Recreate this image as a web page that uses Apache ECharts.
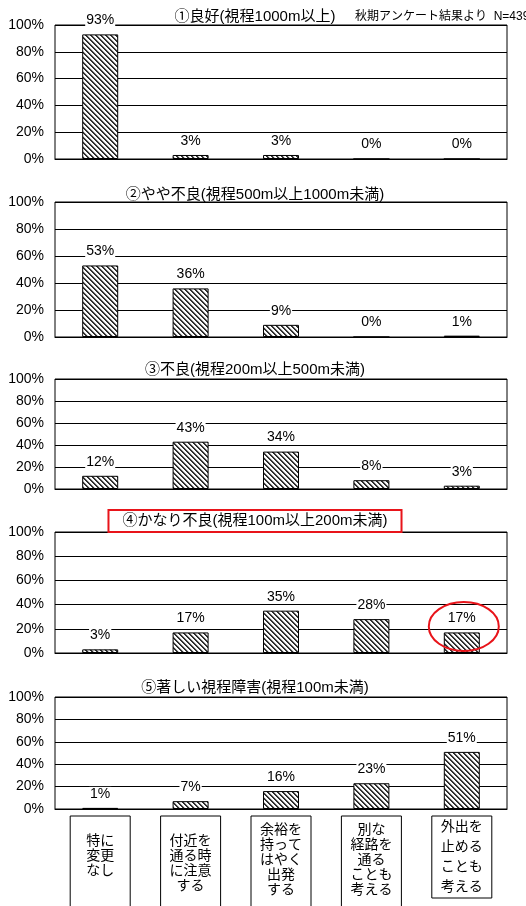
<!DOCTYPE html>
<html><head><meta charset="utf-8">
<script src="https://cdn.jsdelivr.net/npm/echarts@6/dist/echarts.min.js"></script>
<style>html,body{margin:0;padding:0;background:#fff}#c{width:526px;height:906px}</style>
</head><body><div id="c"></div>
<script>
// ---- data ----
const categories = ['特に\n変更\nなし', '付近を\n通る時\nに注意\nする', '余裕を\n持って\nはやく\n出発\nする', '別な\n経路を\n通る\nことも\n考える', '外出を\n止める\nことも\n考える'];
const panelTitles = ['①良好(視程1000m以上)', '②やや不良(視程500m以上1000m未満)', '③不良(視程200m以上500m未満)', '④かなり不良(視程100m以上200m未満)', '⑤著しい視程障害(視程100m未満)'];
const note = '秋期アンケート結果より  N=439';
const good = [93, 3, 3, 0, 0];
const slightlyPoor = [53, 36, 9, 0, 1];
const poor = [12, 43, 34, 8, 3];
const veryPoor = [3, 17, 35, 28, 17];
const severe = [1, 7, 16, 23, 51];
const panels = [good, slightlyPoor, poor, veryPoor, severe];

// ---- layout / style ----
const FONT = '"Liberation Sans", "Noto Sans CJK JP", sans-serif';
const gridTops = [25, 202, 379, 532, 697];
const gridHeights = [134, 135, 110, 121, 112];
const titleY = [17, 195, 370, 521, 688];
const labelBoxStyles = [
  {padding: [18, 0, 0, 0], height: 82, lineHeight: 15},
  {padding: [18, 0, 0, 0], height: 82, lineHeight: 15},
  {padding: [7, 0, 0, 0], height: 93, lineHeight: 15},
  {padding: [7, 0, 0, 0], height: 93, lineHeight: 15},
  {padding: [1, 0, 1, 0], height: 80, lineHeight: 20}
];

// hatch pattern
const pc = document.createElement('canvas');
pc.width = 5; pc.height = 5;
const pctx = pc.getContext('2d');
pctx.fillStyle = '#fff'; pctx.fillRect(0, 0, 5, 5);
for (let y = 0; y < 5; y++) for (let x = 0; x < 5; x++) {
  const k = ((x - y) % 5 + 5) % 5;
  if (k < 2) { pctx.fillStyle = '#333'; pctx.fillRect(x, y, 1, 1); }
  else if (k === 2) { pctx.fillStyle = '#ccc'; pctx.fillRect(x, y, 1, 1); }
}

const chart = echarts.init(document.getElementById('c'), null, {renderer: 'canvas'});
const grids = [], xAxes = [], yAxes = [], series = [];
panels.forEach((vals, i) => {
  grids.push({left: 55, right: 19, top: gridTops[i], height: gridHeights[i], show: true, borderColor: '#000', borderWidth: 1,
    backgroundColor: 'transparent', containLabel: false, outerBoundsMode: 'none'});
  const last = i === panels.length - 1;
  xAxes.push({
    type: 'category', gridIndex: i,
    data: categories.map((c, j) => last ? {value: c, textStyle: labelBoxStyles[j]} : c),
    axisLine: {show: true, lineStyle: {color: '#000', width: 1}},
    axisTick: {show: false},
    axisLabel: last ? {
      show: true, interval: 0, margin: 7, color: '#000', fontSize: 14, fontFamily: FONT,
      borderColor: '#000', borderWidth: 1, width: 60, align: 'center'
    } : {show: false}
  });
  yAxes.push({
    type: 'value', gridIndex: i, min: 0, max: 100, interval: 20,
    axisLine: {show: false}, axisTick: {show: false},
    splitLine: {show: true, lineStyle: {color: '#000', width: 1}},
    axisLabel: {formatter: '{value}%', color: '#000', fontSize: 14, fontFamily: FONT, margin: 11}
  });
  series.push({
    type: 'bar', xAxisIndex: i, yAxisIndex: i, data: vals, barWidth: 36,
    itemStyle: {color: {image: pc, repeat: 'repeat'}, borderColor: '#000', borderWidth: 1},
    label: {show: true, position: 'top', distance: 7, formatter: '{c}%', color: '#000', fontSize: 14,
      fontFamily: FONT, backgroundColor: '#fff', padding: [0, 1], lineHeight: 14},
    silent: true, animation: false
  });
});

chart.setOption({animation: false, grid: grids, xAxis: xAxes, yAxis: yAxes, series: series});

const graphics = panelTitles.map((t, i) => ({
  type: 'text', x: 255, y: titleY[i], z: 10,
  style: Object.assign({text: t, fill: '#000', font: '15px ' + FONT, textAlign: 'center', textVerticalAlign: 'middle'},
    i === 3 ? {borderColor: '#e8141a', borderWidth: 2, padding: [4, 14, 3, 14]} : {})
}));
graphics.push({type: 'text', x: 355, y: 17, z: 10, style: {text: note, fill: '#000', font: '12px ' + FONT, textAlign: 'left', textVerticalAlign: 'middle'}});
const p = chart.convertToPixel({seriesIndex: 3}, [4, veryPoor[4]]);
graphics.push({type: 'ellipse', z: 20, shape: {cx: p[0] + 2, cy: p[1] - 6, rx: 35, ry: 24.5},
  style: {fill: 'none', stroke: '#e8141a', lineWidth: 2}});
chart.setOption({graphic: graphics});
</script></body></html>
